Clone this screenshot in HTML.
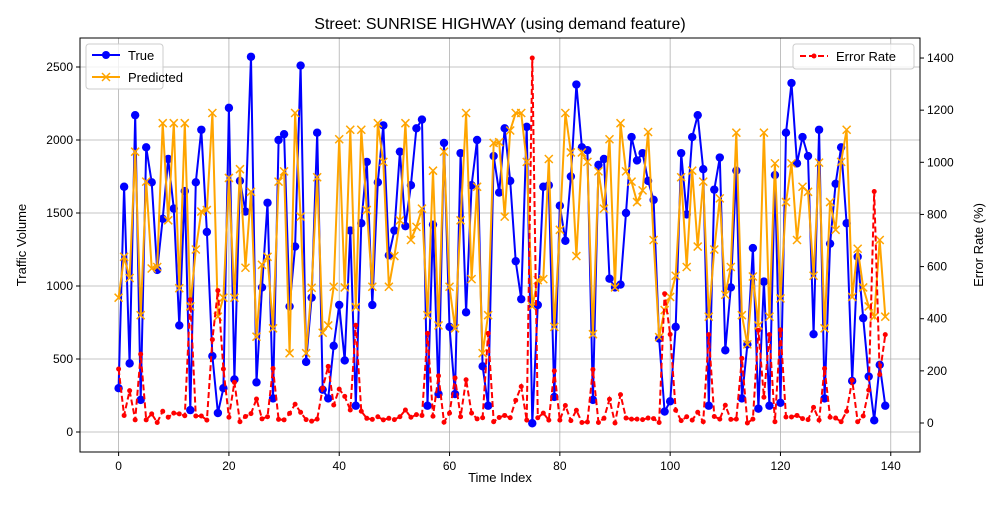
<!DOCTYPE html>
<html><head><meta charset="utf-8"><style>
body{margin:0;background:#fff;font-family:"Liberation Sans",sans-serif}
svg text{font-family:"Liberation Sans",sans-serif;fill:#000}
</style></head><body>
<svg id="chart" width="1000" height="500" xmlns="http://www.w3.org/2000/svg">
<rect width="1000" height="500" fill="#fff"/>
<text x="500" y="29" font-size="16" text-anchor="middle">Street: SUNRISE HIGHWAY (using demand feature)</text>
<g id="grid"></g><g id="series"></g><g id="axes"></g>
<text x="500" y="482" font-size="13" text-anchor="middle">Time Index</text>
<text transform="translate(26,245) rotate(-90)" font-size="13" text-anchor="middle">Traffic Volume</text>
<text transform="translate(983,245) rotate(-90)" font-size="13" text-anchor="middle">Error Rate (%)</text>
<g>
<rect x="86" y="44" width="77" height="45" rx="3" fill="#fff" fill-opacity="0.8" stroke="#ccc"/>
<g><line x1="92" y1="55" x2="120" y2="55" stroke="#0000ff" stroke-width="2"/><circle cx="106" cy="55" r="4" fill="#0000ff"/><text x="128" y="60" font-size="13">True</text></g>
<g><line x1="92" y1="77" x2="120" y2="77" stroke="#ffa500" stroke-width="2"/><path d="M102,73 l8,8 M110,73 l-8,8" stroke="#ffa500" stroke-width="1.5"/><text x="128" y="82" font-size="13">Predicted</text></g>
</g>
<g>
<rect x="793" y="44" width="121" height="25" rx="3" fill="#fff" fill-opacity="0.8" stroke="#ccc"/>
<g><line x1="800" y1="56" x2="828" y2="56" stroke="#ff0000" stroke-width="2" stroke-dasharray="6,3"/><circle cx="814" cy="56" r="2.5" fill="#ff0000"/><text x="836" y="61" font-size="13">Error Rate</text></g>
</g>
</svg>
<script>
const trueVals=[300,1680,470,2170,220,1950,1710,1110,1460,1870,1530,730,1650,150,1710,2070,1370,520,130,300,2220,360,1720,1510,2570,340,990,1570,230,2000,2040,860,1270,2510,480,920,2050,290,230,590,870,490,1380,180,1430,1850,870,1710,2100,1210,1380,1920,1410,1690,2080,2140,180,1420,260,1980,720,260,1910,820,1690,2000,450,180,1890,1640,2080,1720,1170,910,2090,60,870,1680,1690,240,1550,1310,1750,2380,1950,1930,220,1830,1870,1050,990,1010,1500,2020,1860,1910,1720,1590,640,140,210,720,1910,1490,2020,2170,1800,180,1660,1880,560,990,1790,230,600,1260,160,1030,180,1760,200,2050,2390,1840,2020,1890,670,2070,230,1290,1700,1950,1430,350,1200,780,380,80,460,180];
const predVals=[920,1200,1055,1920,800,1715,1120,1130,2115,1450,2115,985,2115,860,1250,1510,1520,2185,790,920,1740,920,1800,1125,1645,653,1145,1200,710,1715,1785,540,2185,1475,540,988,1745,680,730,995,2005,990,2070,855,2070,1520,995,2115,1850,995,1205,1450,2115,1315,1405,1530,800,1790,730,1920,995,710,1450,2185,1047,1680,540,800,1980,1985,1475,2065,2185,2185,1850,860,1040,1047,1870,720,1385,2185,1915,1205,1915,1850,670,1785,1530,2005,990,2115,1785,1715,1575,1655,2055,1315,650,835,925,1070,1745,1130,1790,1270,1715,790,1250,1600,940,1130,2050,800,600,1065,730,2050,790,1840,915,1575,1840,1315,1680,1645,1070,1845,710,1575,1385,1850,2070,925,1255,990,860,790,1315,790];
const errVals=[207,29,124,12,264,12,35,2,45,22,38,35,28,473,27,27,11,320,508,207,22,156,5,25,36,92,16,24,209,14,12,37,72,41,13,7,15,134,217,69,130,102,50,375,45,18,14,24,12,18,13,24,50,22,32,29,344,26,181,3,38,173,24,166,38,16,20,344,5,21,29,20,87,140,11,1400,20,38,11,200,11,67,9,49,2,4,205,2,18,91,0,109,19,15,15,13,19,17,2,496,340,49,9,24,11,41,5,339,25,15,68,14,15,248,0,15,356,99,339,5,357,23,23,29,17,13,60,11,209,22,19,5,45,164,5,27,126,888,186,339];
const yTicks=[0,500,1000,1500,2000,2500];
const y2Ticks=[0,200,400,600,800,1000,1200,1400];
const xTicks=[0,20,40,60,80,100,120,140];
const NS="http://www.w3.org/2000/svg";
const L=80,R=920,T=38,B=452;
const xS=v=>L+(v+7)*(R-L)/152.3;
const yS=v=>432-v*0.146;
const y2S=v=>423-v*0.2607;
function mk(tag,attrs,parent){const e=document.createElementNS(NS,tag);for(const k in attrs)e.setAttribute(k,attrs[k]);parent.appendChild(e);return e;}
const grid=document.getElementById('grid'),axes=document.getElementById('axes'),ser=document.getElementById('series');
xTicks.forEach(t=>{const x=xS(t);
 const g=mk('line',{x1:x,x2:x,y1:T,y2:B,stroke:'#b0b0b0','stroke-width':0.8},grid);
 
 
 mk('line',{x1:x,x2:x,y1:B,y2:B+4,stroke:'#000'},axes);
 const tx=mk('text',{x:x,y:B+18,'font-size':12,'text-anchor':'middle'},axes);tx.textContent=t;
 
 });
yTicks.forEach(t=>{const y=yS(t);
 const g=mk('line',{x1:L,x2:R,y1:y,y2:y,stroke:'#b0b0b0','stroke-width':0.8},grid);
 
 
 mk('line',{x1:L-4,x2:L,y1:y,y2:y,stroke:'#000'},axes);
 const tx=mk('text',{x:L-7,y:y+4,'font-size':12,'text-anchor':'end'},axes);tx.textContent=t;
 
 });
y2Ticks.forEach(t=>{const y=y2S(t);
 mk('line',{x1:R,x2:R+4,y1:y,y2:y,stroke:'#000'},axes);
 const tx=mk('text',{x:R+7,y:y+4,'font-size':12,'text-anchor':'start'},axes);tx.textContent=t;
 
 });
const frame=mk('rect',{x:L,y:T,width:R-L,height:B-T,fill:'none',stroke:'#000','stroke-width':1},axes);


function pts(arr,sc){return arr.map((v,i)=>xS(i).toFixed(1)+','+sc(v).toFixed(1)).join(' ');}
const lt=mk('polyline',{points:pts(trueVals,yS),fill:'none',stroke:'#0000ff','stroke-width':2},ser);


trueVals.forEach((v,i)=>{const c=mk('circle',{cx:xS(i),cy:yS(v),r:4.2,fill:'#0000ff'},ser);
 
 });
const lp=mk('polyline',{points:pts(predVals,yS),fill:'none',stroke:'#ffa500','stroke-width':2},ser);


predVals.forEach((v,i)=>{const x=xS(i),y=yS(v);
 const p=mk('path',{d:`M${x-4},${y-4}L${x+4},${y+4}M${x+4},${y-4}L${x-4},${y+4}`,stroke:'#ffa500','stroke-width':1.5},ser);
 
 });
const le=mk('polyline',{points:pts(errVals,y2S),fill:'none',stroke:'#ff0000','stroke-width':2,'stroke-dasharray':'6,3'},ser);


errVals.forEach((v,i)=>{const c=mk('circle',{cx:xS(i),cy:y2S(v),r:2.5,fill:'#ff0000'},ser);
 
 });
</script>
</body></html>
